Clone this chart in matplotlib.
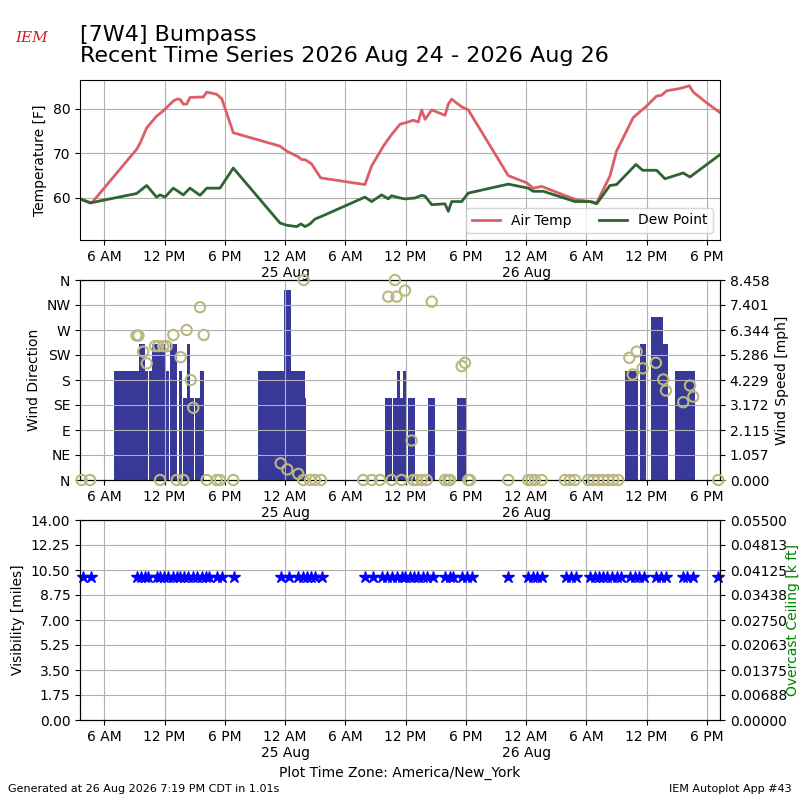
import numpy as np
import pandas as pd
import matplotlib
matplotlib.use("Agg")
import matplotlib.pyplot as plt
import matplotlib.dates as mdates
from matplotlib.ticker import FuncFormatter, FormatStrFormatter

# ── data (hours since 2026-08-24 00:00 America/New_York) ─────────────────────

temp_hours = [3.58, 4.75, 9.22, 9.55, 10.22, 11.2, 11.87, 12.87, 13.2, 13.53,
              13.87, 14.2, 14.53, 15.86, 16.2, 17.19, 17.7, 18.84, 23.49, 24.16,
              25.31, 25.65, 25.98, 26.65, 27.54, 31.95, 32.6, 33.78, 34.6, 35.44,
              36.1, 36.76, 37.26, 37.6, 37.93, 38.6, 39.92, 40.25, 40.58, 41.58,
              42.24, 46.22, 48.05, 48.71, 49.54, 52.03, 53.03, 54.68, 55.02, 56.34,
              57.0, 57.67, 58.66, 60.0, 60.99, 61.49, 61.99, 63.31, 64.24, 64.64,
              65.97, 67.3]
air_temp = [59.8, 58.9, 70.9, 72.2, 75.7, 78.3, 79.5, 81.7, 82.1, 82.1,
            81.0, 81.0, 82.5, 82.6, 83.7, 83.2, 82.2, 74.6, 71.6, 70.5,
            69.2, 68.6, 68.6, 67.6, 64.5, 63.0, 67.1, 71.6, 74.2, 76.5,
            76.9, 77.4, 77.0, 79.7, 77.6, 79.7, 78.5, 81.0, 82.1, 80.4,
            79.7, 65.0, 63.4, 62.2, 62.6, 60.4, 59.6, 59.1, 58.9, 64.9,
            70.5, 73.5, 78.0, 80.6, 82.8, 83.0, 84.0, 84.5, 85.1, 83.7,
            81.3, 79.1]

dew_hours = [3.58, 4.58, 9.22, 10.22, 11.2, 11.55, 12.04, 12.87, 13.87, 14.53,
             15.53, 16.2, 17.52, 18.84, 23.49, 24.16, 25.15, 25.58, 25.98, 26.48,
             26.98, 27.64, 31.95, 32.62, 33.61, 34.27, 34.6, 35.44, 35.94, 36.93,
             37.6, 37.93, 38.6, 39.92, 40.25, 40.58, 41.58, 42.24, 46.22, 48.21,
             48.71, 49.7, 52.86, 54.35, 55.02, 56.34, 57.0, 58.93, 59.6, 60.99,
             61.82, 63.64, 64.31, 67.3]
dew_point = [59.8, 58.9, 61.0, 62.8, 60.2, 60.7, 60.2, 62.2, 60.7, 62.2,
             60.6, 62.2, 62.2, 66.7, 54.4, 53.9, 53.6, 54.2, 53.6, 54.2,
             55.3, 55.9, 60.2, 59.2, 60.7, 59.8, 60.5, 60.0, 59.8, 60.0,
             60.6, 60.4, 58.5, 58.7, 57.0, 59.2, 59.2, 61.1, 63.1, 62.2,
             61.5, 61.5, 59.2, 59.2, 58.7, 62.8, 63.0, 67.5, 66.2, 66.2,
             64.3, 65.6, 64.7, 69.7]

# wind speed observations (knots), calm reports omitted
wind_hours = [7.13, 7.46, 7.79, 8.12, 8.45, 8.78, 9.11, 9.29, 9.62, 9.88,
              10.22, 10.61, 10.95, 11.28, 11.61, 11.94, 12.24, 12.71, 13.04, 13.57,
              14.05, 14.38, 14.74, 15.21, 15.34, 15.74,
              21.5, 21.83, 22.17, 22.5, 22.83, 23.17, 23.5, 23.72, 24.06, 24.39,
              24.72, 25.05, 25.38, 25.71, 25.81, 25.91,
              34.12, 34.44, 34.93, 35.28, 35.56, 35.86, 36.43, 36.76, 38.39, 38.72,
              41.28, 41.61, 41.83,
              58.04, 58.37, 58.70, 58.96, 59.50, 59.73, 60.57, 60.90, 61.23, 61.42,
              61.76, 61.92, 63.01, 63.34, 63.67, 64.0, 64.33, 64.64]
wind_knots = [4, 4, 4, 4, 4, 4, 4, 4, 5, 5,
              4, 4, 5, 5, 5, 5, 4, 5, 5, 4,
              3, 5, 3, 3, 3, 4,
              4, 4, 4, 4, 4, 4, 4, 4, 7, 7,
              4, 4, 4, 4, 4, 3,
              3, 3, 3, 4, 3, 4, 3, 3, 3, 3,
              3, 3, 3,
              4, 4, 4, 4, 5, 5, 6, 6, 6, 6,
              5, 5, 4, 4, 4, 4, 4, 4]

drct_hours = [3.74, 4.57, 9.2, 9.4, 9.88, 10.22, 11.05, 11.38, 11.55, 11.87,
              12.21, 12.87, 13.21, 13.6, 13.87, 14.2, 14.6, 14.86, 15.53, 15.9,
              16.19, 17.19, 17.52, 18.84,
              23.56, 24.22, 25.31, 25.81, 25.85, 26.48, 26.98, 27.57,
              31.78, 32.62, 33.44, 34.27, 34.61, 34.94, 35.1, 35.6, 35.94, 36.6,
              36.76, 37.1, 37.6, 38.1, 38.6, 39.92, 40.25, 40.42, 41.58, 41.91,
              42.24, 42.41,
              46.22, 48.21, 48.54, 48.88, 49.54, 51.86, 52.36, 52.86, 54.18, 54.68,
              55.18, 55.68, 56.17, 56.67, 57.17,
              58.27, 58.6, 59.0, 59.6, 60.92, 61.65, 61.92, 63.64, 64.31, 64.64,
              67.13]
drct_deg = [0, 0, 260, 260, 231, 210, 241, 241, 0, 241,
            241, 261, 0, 221, 0, 270, 180, 130, 311, 261,
            0, 0, 0, 0,
            30, 19, 11, 0, 360, 0, 0, 0,
            0, 0, 0, 330, 0, 360, 330, 0, 341, 71,
            0, 0, 0, 0, 321, 0, 0, 0, 205, 211,
            0, 0,
            0, 0, 0, 0, 0, 0, 0, 0, 0, 0,
            0, 0, 0, 0, 0,
            220, 190, 231, 201, 211, 181, 161, 140, 170, 150,
            0]

vsby_hours = [3.85, 4.65, 9.23, 9.62, 10.05, 10.38,
              11.22, 11.55, 11.94, 12.37, 12.81, 13.21, 13.54, 13.93, 14.36, 14.80,
              15.20, 15.70, 16.09, 16.42, 17.19, 17.69, 18.91,
              23.56, 24.42, 25.31, 25.75, 26.15, 26.55, 26.98, 27.64,
              31.95, 32.78, 33.62, 34.11, 34.61, 35.11, 35.61, 35.94, 36.44, 36.84,
              37.26, 37.70, 38.10, 38.75, 39.94, 40.44, 40.74, 41.58, 42.08, 42.58,
              46.22, 48.21, 48.65, 49.05, 49.54, 51.93, 52.43, 52.96,
              54.35, 54.85, 55.28, 55.68, 56.07, 56.51, 57.01, 57.41,
              58.33, 58.83, 59.26, 59.73, 60.92, 61.39, 61.92, 63.58, 64.04, 64.58,
              67.13]
vsby_miles = [10.0] * len(vsby_hours)

DIR_LABELS = ["N", "NE", "E", "SE", "S", "SW", "W", "NW", "N"]
BASE = pd.Timestamp("2026-08-24 00:00")


def to_time(hours):
    return BASE + pd.to_timedelta(np.asarray(hours), unit="h")


def time_label(x, pos=None):
    dt = mdates.num2date(x)
    if dt.hour == 0:
        return "12 AM\n" + dt.strftime("%d %b")
    return dt.strftime("%I %p").lstrip("0")


def style_time_axis(ax):
    ax.xaxis.set_major_locator(mdates.HourLocator(byhour=[0, 6, 12, 18]))
    ax.xaxis.set_major_formatter(FuncFormatter(time_label))
    ax.set_xlim(to_time([temp_hours[0]])[0], to_time([temp_hours[-1]])[0])
    ax.grid(True)


fig = plt.figure(figsize=(8, 8), dpi=100)

# ── temperature panel ─────────────────────────────────────────────────────────
ax1 = fig.add_axes([0.1, 0.7, 0.8, 0.2])
ax1.plot(to_time(temp_hours), air_temp, color="#dc5f66", lw=2, label="Air Temp")
ax1.plot(to_time(dew_hours), dew_point, color="#2f6332", lw=2, label="Dew Point")
ax1.set_ylim(50.6, 86.4)
ax1.set_yticks([60, 70, 80])
ax1.set_ylabel("Temperature [F]")
style_time_axis(ax1)
ax1.legend(loc="lower right", ncol=2)

# ── wind panel ────────────────────────────────────────────────────────────────
ax2 = fig.add_axes([0.1, 0.4, 0.8, 0.25])
ax2b = ax2.twinx()
speed_mph = np.array(wind_knots) * 1.15078
ax2b.bar(to_time(wind_hours), speed_mph, width=20 / 1440.0, color="#383898")
top = speed_mph.max() * 1.05
ax2b.set_ylim(0, top)
ax2b.set_yticks(np.linspace(0, top, 9))
ax2b.yaxis.set_major_formatter(FormatStrFormatter("%.3f"))
ax2b.set_ylabel("Wind Speed [mph]")

ax2.set_zorder(ax2b.get_zorder() + 1)
ax2.patch.set_visible(False)
ax2.scatter(to_time(drct_hours), drct_deg, s=55, facecolors="none",
            edgecolors="#b9b97f", linewidths=1.5, clip_on=False, zorder=3)
ax2.set_ylim(0, 360)
ax2.set_yticks(range(0, 361, 45))
ax2.set_yticklabels(DIR_LABELS)
ax2.set_ylabel("Wind Direction")
style_time_axis(ax2)

# ── visibility / ceiling panel ────────────────────────────────────────────────
ax3 = fig.add_axes([0.1, 0.1, 0.8, 0.25])
ax3.plot(to_time(vsby_hours), vsby_miles, "*", color="b", ms=9, clip_on=False)
ax3.set_ylim(0, 14)
ax3.set_yticks(np.linspace(0, 14, 9))
ax3.yaxis.set_major_formatter(FormatStrFormatter("%.2f"))
ax3.set_ylabel("Visibility [miles]")
style_time_axis(ax3)
ax3.set_xlabel("Plot Time Zone: America/New_York")

ax3b = ax3.twinx()
ax3b.set_ylim(0, 0.055)
ax3b.set_yticks(np.linspace(0, 0.055, 9))
ax3b.yaxis.set_major_formatter(FormatStrFormatter("%.5f"))
ax3b.set_ylabel("Overcast Ceiling [k ft]", color="g", labelpad=-1)

# ── titles and footer ─────────────────────────────────────────────────────────
fig.text(0.1, 0.917, "[7W4] Bumpass\nRecent Time Series 2026 Aug 24 - 2026 Aug 26",
         fontsize=16, va="bottom", ha="left", linespacing=1.1)
fig.text(0.04, 0.952, "IEM", color="#d42020", fontsize=11, style="italic",
         family="DejaVu Serif", ha="center", va="center")
fig.text(0.01, 0.01, "Generated at 26 Aug 2026 7:19 PM CDT in 1.01s", fontsize=8)
fig.text(0.99, 0.01, "IEM Autoplot App #43", fontsize=8, ha="right")

fig.savefig("out.png", dpi=100)
